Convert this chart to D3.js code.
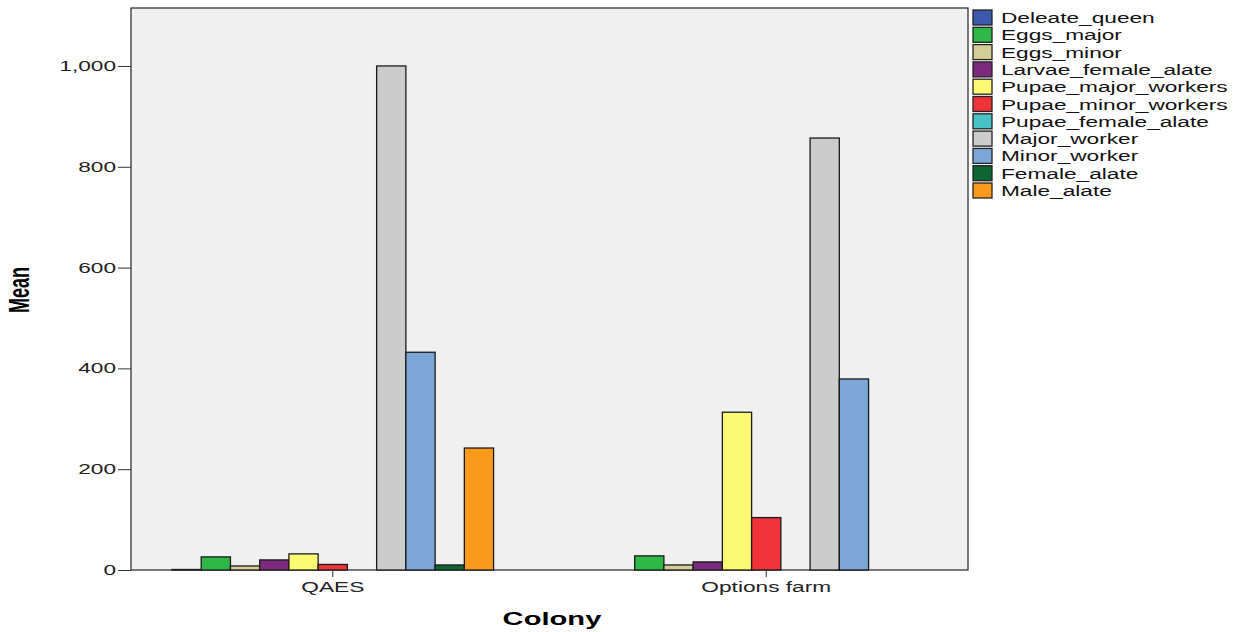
<!DOCTYPE html>
<html>
<head>
<meta charset="utf-8">
<script src="https://cdn.jsdelivr.net/npm/d3@7"></script>
<style>
body { margin: 0; background: #fff; }
svg text { font-family: "Liberation Sans", Arial, sans-serif; }
</style>
</head>
<body>
<svg id="chart" width="1237" height="632"></svg>
<script>
// colonies on the x axis
var colonies = ["QAES", "Options farm"];

// one entry per legend series
var series = ["Deleate_queen", "Eggs_major", "Eggs_minor", "Larvae_female_alate",
    "Pupae_major_workers", "Pupae_minor_workers", "Pupae_female_alate",
    "Major_worker", "Minor_worker", "Female_alate", "Male_alate"];

var colors = ["#3e58ac", "#2eb848", "#d3ce97", "#7b2a7e", "#fbf873", "#ef3338",
    "#48c2c5", "#cccccc", "#7ca6d8", "#0d6532", "#f99a1c"];

// means, same order as series
var qaesMeans = [1, 26, 8, 20, 32, 11, 0, 1000, 432, 10, 242];
var optionsMeans = [0, 28, 10, 16, 313, 104, 0, 857, 379, 0, 0];

var yTicks = [0, 200, 400, 600, 800, 1000];

var means = { "QAES": qaesMeans, "Options farm": optionsMeans };

var svg = d3.select("#chart");
var pLeft = 131, pRight = 968, pTop = 8, pBottom = 570;
// the original picture is stretched sideways, so is its text
var sx = 1.62;

var x0 = d3.scaleBand().domain(colonies).range([pLeft, pRight])
    .paddingInner(0.258).paddingOuter(0.0945);
var x1 = d3.scaleBand().domain(series).range([0, x0.bandwidth()]);
var y = d3.scaleLinear().domain([0, 1115]).range([pBottom, pTop]);
var color = d3.scaleOrdinal().domain(series).range(colors);

// plot background
svg.append("rect")
    .attr("x", pLeft).attr("y", pTop)
    .attr("width", pRight - pLeft).attr("height", pBottom - pTop)
    .attr("fill", "#f0f0f0")
    .attr("stroke", "#222").attr("stroke-width", 1.2);

var groups = svg.selectAll("g.colony")
    .data(colonies)
    .enter()
    .append("g")
    .attr("class", "colony")
    .attr("transform", function(d) { return "translate(" + x0(d) + ",0)"; });

groups.selectAll("rect")
    .data(function(c) {
        return series.map(function(s, i) { return { key: s, value: means[c][i] }; });
    })
    .enter()
    .filter(function(d) { return d.value > 0; })
    .append("rect")
    .attr("x", function(d) { return x1(d.key); })
    .attr("y", function(d) { return y(d.value); })
    .attr("width", x1.bandwidth())
    .attr("height", function(d) { return y(0) - y(d.value); })
    .attr("fill", function(d) { return color(d.key); })
    .attr("stroke", "#1a1a1a")
    .attr("stroke-width", 1.3);

// y axis
var yAxis = svg.append("g")
    .attr("transform", "translate(" + pLeft + ",0)")
    .call(d3.axisLeft(y).tickValues(yTicks).tickFormat(d3.format(",")).tickSize(13));
yAxis.select(".domain").remove();
yAxis.selectAll("line").attr("stroke", "#333");
yAxis.selectAll("text")
    .attr("x", 0)
    .attr("transform", "translate(-15,0) scale(" + sx + ",1)")
    .attr("font-size", 14).attr("fill", "#222")
    .style("font-family", "'Liberation Sans', Arial, sans-serif");

// x axis
var xAxis = svg.append("g")
    .attr("transform", "translate(0," + pBottom + ")")
    .call(d3.axisBottom(x0).tickSize(7).tickSizeOuter(0).tickPadding(5));
xAxis.select(".domain").remove();
xAxis.selectAll("line").attr("stroke", "#333");
xAxis.selectAll("text")
    .attr("transform", "scale(" + sx + ",1)")
    .attr("font-size", 14).attr("fill", "#222")
    .style("font-family", "'Liberation Sans', Arial, sans-serif");

// axis titles
svg.append("text")
    .attr("transform", "translate(552,625) scale(" + sx + ",1)")
    .attr("text-anchor", "middle")
    .attr("font-size", 18).attr("font-weight", "bold")
    .text("Colony");

svg.append("text")
    .attr("transform", "translate(29,290) scale(" + sx + ",1) rotate(-90)")
    .attr("text-anchor", "middle")
    .attr("font-size", 18).attr("font-weight", "bold")
    .text("Mean");

// legend
var legend = svg.append("g").attr("transform", "translate(973,10)");
var item = legend.selectAll("g")
    .data(series)
    .enter()
    .append("g")
    .attr("transform", function(d, i) { return "translate(0," + i * 17.3 + ")"; });
item.append("rect")
    .attr("width", 19).attr("height", 15)
    .attr("fill", function(d) { return color(d); })
    .attr("stroke", "#222").attr("stroke-width", 1.3);
item.append("text")
    .attr("transform", "translate(28,13) scale(" + sx + ",1)")
    .attr("font-size", 14).attr("fill", "#111")
    .text(function(d) { return d; });
</script>
</body>
</html>
